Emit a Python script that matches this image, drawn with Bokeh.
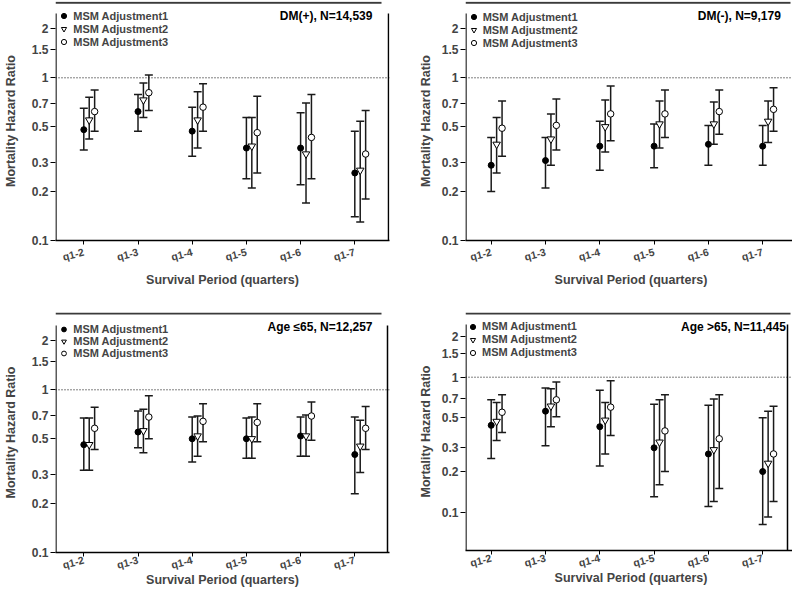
from bokeh.plotting import figure
from bokeh.models import (ColumnDataSource, Span, Label, Legend, LegendItem,
                          FixedTicker, CustomJSTickFormatter, Range1d)
from bokeh.layouts import gridplot
from bokeh.embed import file_html
from bokeh.resources import INLINE

# ---------------- data ----------------
categories = ["q1-2", "q1-3", "q1-4", "q1-5", "q1-6", "q1-7"]
series_names = ["MSM Adjustment1", "MSM Adjustment2", "MSM Adjustment3"]
y_ticks = [0.1, 0.2, 0.3, 0.5, 0.7, 1, 1.5, 2]

# Panel A: DM(+), N=14,539
dmp_adj1 = [0.48, 0.62, 0.47, 0.37, 0.37, 0.26]
dmp_adj1_lo = [0.36, 0.47, 0.33, 0.24, 0.22, 0.14]
dmp_adj1_hi = [0.65, 0.79, 0.66, 0.57, 0.61, 0.47]
dmp_adj2 = [0.55, 0.73, 0.55, 0.38, 0.34, 0.27]
dmp_adj2_lo = [0.42, 0.57, 0.37, 0.21, 0.17, 0.13]
dmp_adj2_hi = [0.76, 0.93, 0.82, 0.57, 0.70, 0.54]
dmp_adj3 = [0.62, 0.81, 0.66, 0.46, 0.43, 0.34]
dmp_adj3_lo = [0.47, 0.63, 0.47, 0.26, 0.24, 0.18]
dmp_adj3_hi = [0.84, 1.04, 0.92, 0.77, 0.79, 0.63]

# Panel B: DM(-), N=9,179
dmm_adj1 = [0.29, 0.31, 0.38, 0.38, 0.39, 0.38]
dmm_adj1_lo = [0.20, 0.21, 0.27, 0.28, 0.29, 0.29]
dmm_adj1_hi = [0.43, 0.43, 0.54, 0.52, 0.51, 0.51]
dmm_adj2 = [0.39, 0.42, 0.50, 0.52, 0.52, 0.54]
dmm_adj2_lo = [0.26, 0.29, 0.35, 0.37, 0.39, 0.40]
dmm_adj2_hi = [0.57, 0.60, 0.73, 0.72, 0.71, 0.72]
dmm_adj3 = [0.49, 0.51, 0.60, 0.60, 0.62, 0.64]
dmm_adj3_lo = [0.33, 0.36, 0.41, 0.43, 0.45, 0.47]
dmm_adj3_hi = [0.72, 0.74, 0.89, 0.84, 0.84, 0.87]

# Panel C: Age <=65, N=12,257
young_adj1 = [0.46, 0.55, 0.50, 0.50, 0.52, 0.40]
young_adj1_lo = [0.32, 0.44, 0.36, 0.38, 0.39, 0.23]
young_adj1_hi = [0.67, 0.74, 0.68, 0.67, 0.68, 0.68]
young_adj2 = [0.46, 0.56, 0.52, 0.50, 0.52, 0.45]
young_adj2_lo = [0.32, 0.41, 0.39, 0.38, 0.39, 0.31]
young_adj2_hi = [0.67, 0.76, 0.69, 0.68, 0.70, 0.65]
young_adj3 = [0.58, 0.68, 0.64, 0.63, 0.69, 0.58]
young_adj3_lo = [0.43, 0.50, 0.48, 0.48, 0.49, 0.43]
young_adj3_hi = [0.78, 0.92, 0.82, 0.82, 0.84, 0.79]

# Panel D: Age >65, N=11,445
old_adj1 = [0.44, 0.56, 0.43, 0.30, 0.27, 0.20]
old_adj1_lo = [0.25, 0.31, 0.22, 0.13, 0.11, 0.081]
old_adj1_hi = [0.68, 0.83, 0.80, 0.63, 0.62, 0.50]
old_adj2 = [0.47, 0.61, 0.48, 0.33, 0.29, 0.23]
old_adj2_lo = [0.34, 0.43, 0.27, 0.16, 0.12, 0.092]
old_adj2_hi = [0.65, 0.82, 0.65, 0.68, 0.69, 0.56]
old_adj3 = [0.55, 0.68, 0.60, 0.40, 0.35, 0.27]
old_adj3_lo = [0.39, 0.51, 0.37, 0.20, 0.15, 0.12]
old_adj3_hi = [0.74, 0.92, 0.94, 0.74, 0.74, 0.61]

panel_titles = ["DM(+),  N=14,539", "DM(-),  N=9,179", "Age \u226465, N=12,257", "Age >65, N=11,445"]

# ---------------- styling ----------------
FONT = "Liberation Sans"
OFFSETS = [0.0, 0.1, 0.2]
MARKERS = [dict(marker="circle", size=6, fill_color="black"),
           dict(marker="inverted_triangle", size=7.5, fill_color="white"),
           dict(marker="circle", size=6.5, fill_color="white")]
BAR_COLOR = "#1a1a1a"


def make_panel(title, est, lo, hi, L):
    # pixel -> data helpers (layout only)
    def sx(px):
        return (px - L["cat0"]) / L["step"]

    def sy(py):
        return 10 ** ((L["one"] - py) / L["dec"])

    p = figure(frame_width=L["fx1"] - L["fx0"], frame_height=L["fbot"] - L["ftop"],
               y_axis_type="log",
               x_range=Range1d(sx(L["fx0"]), sx(L["fx1"])),
               y_range=Range1d(sy(L["fbot"]), sy(L["ftop"])),
               min_border_left=L["fx0"], min_border_right=L["w"] - L["fx1"],
               min_border_top=L["ftop"], min_border_bottom=L["h"] - L["fbot"],
               output_backend="svg", toolbar_location=None)
    p.outline_line_color = None
    p.xgrid.visible = False
    p.ygrid.visible = False
    p.background_fill_color = "white"
    p.border_fill_color = "white"

    # reference line at HR = 1
    p.add_layout(Span(location=1, dimension="width", line_color="black",
                      line_width=1, line_dash="1 2", level="underlay"))

    renderers = []
    for k in range(3):
        xs = [i + OFFSETS[k] for i in range(len(categories))]
        src = ColumnDataSource(dict(x=xs, est=est[k], lo=lo[k], hi=hi[k]))
        # error bars: vertical line + caps, drawn before the markers
        p.segment(x0="x", y0="lo", x1="x", y1="hi", source=src,
                  line_color=BAR_COLOR, line_width=1.5)
        p.scatter("x", "lo", source=src, marker="dash", size=8,
                  line_color=BAR_COLOR, line_width=1.5)
        p.scatter("x", "hi", source=src, marker="dash", size=8,
                  line_color=BAR_COLOR, line_width=1.5)
        m = MARKERS[k]
        r = p.scatter("x", "est", source=src, marker=m["marker"], size=m["size"],
                      fill_color=m["fill_color"], line_color="black", line_width=1)
        renderers.append(r)

    # frame decorations (top rule, right rule, y axis line)
    p.segment(x0=sx(L["fx0"]), y0=sy(L["topline"]), x1=sx(L["topend"]), y1=sy(L["topline"]),
              line_color="#3a3a3a", line_width=2)
    p.segment(x0=sx(L["rline"]), y0=sy(L["ytop"]), x1=sx(L["rline"]), y1=sy(L["fbot"]),
              line_color="black", line_width=1.5)
    p.segment(x0=sx(L["fx0"] + 0.5), y0=sy(L["ytop"]), x1=sx(L["fx0"] + 0.5), y1=sy(L["fbot"]),
              line_color="black", line_width=1.3)

    # axes
    xa = p.xaxis[0]
    xa.ticker = FixedTicker(ticks=list(range(len(categories))))
    xa.major_label_overrides = {i: c for i, c in enumerate(categories)}
    xa.major_label_orientation = 0.25
    xa.major_label_text_font = FONT
    xa.major_label_text_font_style = "bold"
    xa.major_label_text_font_size = "10.5px"
    xa.major_label_standoff = L["xstand"]
    xa.major_tick_in = 0
    xa.major_tick_out = 4
    xa.axis_line_width = 1.3
    xa.axis_line_color = "black"
    xa.axis_label = "Survival Period (quarters)"
    xa.axis_label_text_font = FONT
    xa.axis_label_text_font_style = "bold"
    xa.axis_label_text_font_size = "12.5px"
    xa.axis_label_standoff = L["xlabstand"]

    ya = p.yaxis[0]
    ya.ticker = FixedTicker(ticks=y_ticks)
    ya.formatter = CustomJSTickFormatter(code="return String(tick);")
    ya.axis_line_color = None
    ya.major_tick_in = 0
    ya.major_tick_out = 5
    ya.major_label_standoff = 2
    ya.major_label_text_font = FONT
    ya.major_label_text_font_style = "bold"
    ya.major_label_text_font_size = "12px"
    ya.axis_label = "Mortality Hazard Ratio"
    ya.axis_label_text_font = FONT
    ya.axis_label_text_font_style = "bold"
    ya.axis_label_text_font_size = "12.5px"
    ya.axis_label_standoff = L["ylabstand"]

    # panel title
    p.add_layout(Label(x=sx(L["title_r"]), y=sy(L["title_cy"]), text=title,
                       text_align="right", text_baseline="middle",
                       text_font=FONT, text_font_style="bold", text_font_size="12px",
                       text_color="black"))

    # legend
    ih = L["item_h"]
    lh = 3 * ih
    lx = L["leg_cx"] - 12 - L["fx0"]
    ly = L["fbot"] - (L["leg_cy"] - ih / 2 + lh)
    leg = Legend(items=[LegendItem(label=series_names[k], renderers=[renderers[k]]) for k in range(3)],
                 location=(lx, ly), orientation="vertical",
                 border_line_color=None, background_fill_alpha=0,
                 label_text_font=FONT, label_text_font_style="bold", label_text_font_size="11px",
                 glyph_width=13, glyph_height=ih, label_height=ih, label_standoff=3,
                 spacing=0, padding=0, margin=0)
    p.add_layout(leg)
    return p


L1 = dict(w=396, h=300, fx0=49, fx1=383, ftop=1, fbot=240, cat0=77.3, step=54.2, one=77.3, dec=162.7,
          topline=2.2, topend=375, rline=382, ytop=13, title_r=369.3, title_cy=15.7,
          leg_cx=63.3, leg_cy=15.7, item_h=13, xstand=7, xlabstand=2, ylabstand=11)
L2 = dict(w=396, h=300, fx0=63, fx1=394, ftop=1, fbot=240, cat0=88.7, step=54.3, one=77.3, dec=162.7,
          topline=2.2, topend=388, rline=393, ytop=13, title_r=381.7, title_cy=15.7,
          leg_cx=76.7, leg_cy=16.7, item_h=13, xstand=7, xlabstand=2, ylabstand=6)
L3 = dict(w=396, h=299, fx0=49, fx1=383, ftop=12, fbot=252, cat0=77.3, step=54.2, one=89.3, dec=162.7,
          topline=13, topend=375, rline=381, ytop=25, title_r=366, title_cy=26,
          leg_cx=63.3, leg_cy=29.3, item_h=12, xstand=3, xlabstand=-6, ylabstand=11)
L4 = dict(w=396, h=299, fx0=63, fx1=394, ftop=12, fbot=250, cat0=88.7, step=54.3, one=76.7, dec=135,
          topline=13, topend=388, rline=385, ytop=24, title_r=383.3, title_cy=26,
          leg_cx=76, leg_cy=26, item_h=13, xstand=3, xlabstand=-6, ylabstand=6)

p1 = make_panel(panel_titles[0], [dmp_adj1, dmp_adj2, dmp_adj3],
                [dmp_adj1_lo, dmp_adj2_lo, dmp_adj3_lo], [dmp_adj1_hi, dmp_adj2_hi, dmp_adj3_hi], L1)
p2 = make_panel(panel_titles[1], [dmm_adj1, dmm_adj2, dmm_adj3],
                [dmm_adj1_lo, dmm_adj2_lo, dmm_adj3_lo], [dmm_adj1_hi, dmm_adj2_hi, dmm_adj3_hi], L2)
p3 = make_panel(panel_titles[2], [young_adj1, young_adj2, young_adj3],
                [young_adj1_lo, young_adj2_lo, young_adj3_lo], [young_adj1_hi, young_adj2_hi, young_adj3_hi], L3)
p4 = make_panel(panel_titles[3], [old_adj1, old_adj2, old_adj3],
                [old_adj1_lo, old_adj2_lo, old_adj3_lo], [old_adj1_hi, old_adj2_hi, old_adj3_hi], L4)

grid = gridplot([[p1, p2], [p3, p4]], toolbar_location=None)

open("out.html", "w").write(file_html(grid, INLINE))
